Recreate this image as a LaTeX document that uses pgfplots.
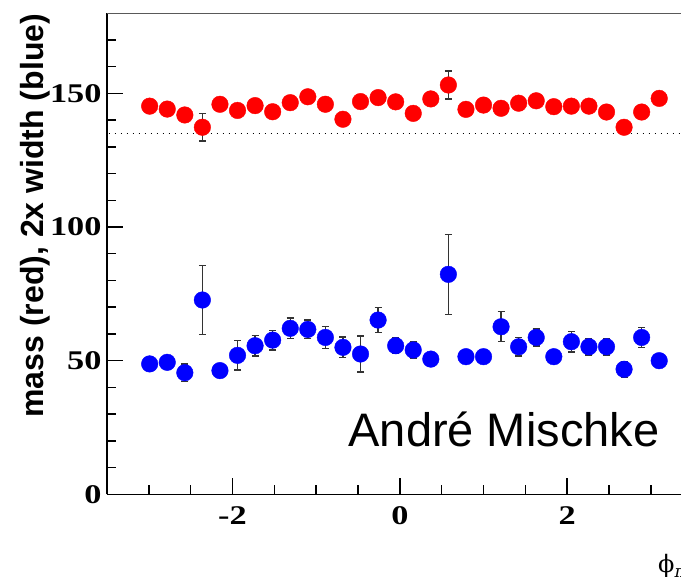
\documentclass[border=0pt]{standalone}
\usepackage{fontspec}
\setmainfont{Liberation Serif}
\newfontfamily\labelsans{Liberation Sans}
\newfontfamily\greekserif{DejaVu Serif}
\usepackage{graphicx}
\usepackage{pgfplots}
\usepackage{pgfplotstable}
\pgfplotsset{compat=1.18}

% wide bold tick numbers
\newcommand{\tk}[1]{\scalebox{1.27}[1]{\bfseries #1}}

% x = azimuthal bin centre; m = peak mass (red), w = 2x peak width (blue)
\pgfplotstableread{
x      m      merr  w     werr
-2.99  145.2  2.0   48.8  2.0
-2.78  144.1  2.0   49.4  2.0
-2.57  141.9  2.0   45.5  3.3
-2.36  137.3  5.2   72.7  13.0
-2.15  145.9  2.0   46.3  2.0
-1.94  143.6  2.0   52.0  5.5
-1.73  145.4  2.0   55.6  3.9
-1.52  143.1  2.0   57.7  3.7
-1.31  146.5  2.0   62.1  3.8
-1.10  148.7  2.0   61.7  3.5
-0.89  145.9  2.0   58.7  4.2
-0.68  140.3  2.0   55.0  3.8
-0.47  146.9  2.0   52.5  6.7
-0.26  148.4  2.0   65.2  4.7
-0.05  146.8  2.0   55.6  3.0
 0.16  142.5  2.0   54.0  3.0
 0.37  147.9  2.0   50.6  2.0
 0.58  153.1  5.3   82.3  15.0
 0.79  144.0  2.0   51.5  2.0
 1.00  145.6  2.0   51.5  2.0
 1.21  144.4  2.0   62.7  5.6
 1.42  146.3  2.0   55.2  3.4
 1.63  147.2  2.0   58.7  3.2
 1.84  145.0  2.0   51.5  2.0
 2.05  145.2  2.0   57.1  3.9
 2.26  145.2  2.0   55.2  3.0
 2.47  143.0  2.0   55.2  3.0
 2.68  137.3  2.0   46.8  3.0
 2.89  143.0  2.0   58.7  3.7
 3.10  148.1  2.0   50.0  2.0
}\peakdata

\begin{document}
\begin{tikzpicture}
\begin{axis}[
  at={(0,0)}, anchor=south west,
  scale only axis, width=585.7pt, height=481.3pt,
  xmin=-3.5, xmax=3.5, ymin=0, ymax=180,
  axis x line*=bottom, axis y line*=left,
  axis line style={-, line width=1.7pt, black},
  tick align=inside,
  xtick={-2,0,2}, xticklabels={\tk{-2},\tk{0},\tk{2}},
  ytick={0,50,100,150}, yticklabels={\tk{0},\tk{50},\tk{100},\tk{150}},
  minor xtick={-3,-2.5,-1.5,-1,-0.5,0.5,1,1.5,2.5,3},
  minor ytick={10,20,30,40,60,70,80,90,110,120,130,140,160,170},
  major tick length=16pt, minor tick length=9pt,
  tick style={line width=1.5pt, black},
  ticklabel style={font=\fontsize{27}{27}\selectfont, inner sep=0pt},
  xticklabel style={anchor=north, yshift=-12.3pt},
  yticklabel style={anchor=east, xshift=-5.3pt},
  ylabel={mass (red), 2x width (blue)},
  ylabel style={at={(axis description cs:-0.1088,0.5789)}, anchor=base,
    font=\labelsans\bfseries\fontsize{32}{32}\selectfont},
  error bars/error bar style={line width=1.4pt, black!80},
  error bars/error mark options={rotate=90, mark size=3.5pt, line width=1.4pt, black!80},
]
\draw[line width=1.5pt, black!65] (rel axis cs:0,1) -- (rel axis cs:1,1);
\addplot[black, line width=1.5pt, dash pattern=on 1.5pt off 4.5pt]
  coordinates {(-3.48,135) (3.5,135)};
\addplot[only marks, mark=*, mark size=8.3pt, mark options={draw=red, fill=red},
  error bars/.cd, y dir=both, y explicit]
  table[x=x, y=m, y error=merr] {\peakdata};
\addplot[only marks, mark=*, mark size=8.3pt, mark options={draw=blue, fill=blue},
  error bars/.cd, y dir=both, y explicit]
  table[x=x, y=w, y error=werr] {\peakdata};
\end{axis}
\node[anchor=base, font=\labelsans\fontsize{47}{47}\selectfont] at (397pt,47.7pt) {André Mischke};
\node[anchor=base west, font=\greekserif\fontsize{24}{24}\selectfont, inner sep=0pt] at (551pt,-77.9pt)
  {ϕ\raisebox{-5pt}{\fontsize{17}{17}\selectfont\itshape π}};
\pgfresetboundingbox
\useasboundingbox (-107pt,-93.6pt) rectangle (574pt,494.4pt);
\end{tikzpicture}
\end{document}
